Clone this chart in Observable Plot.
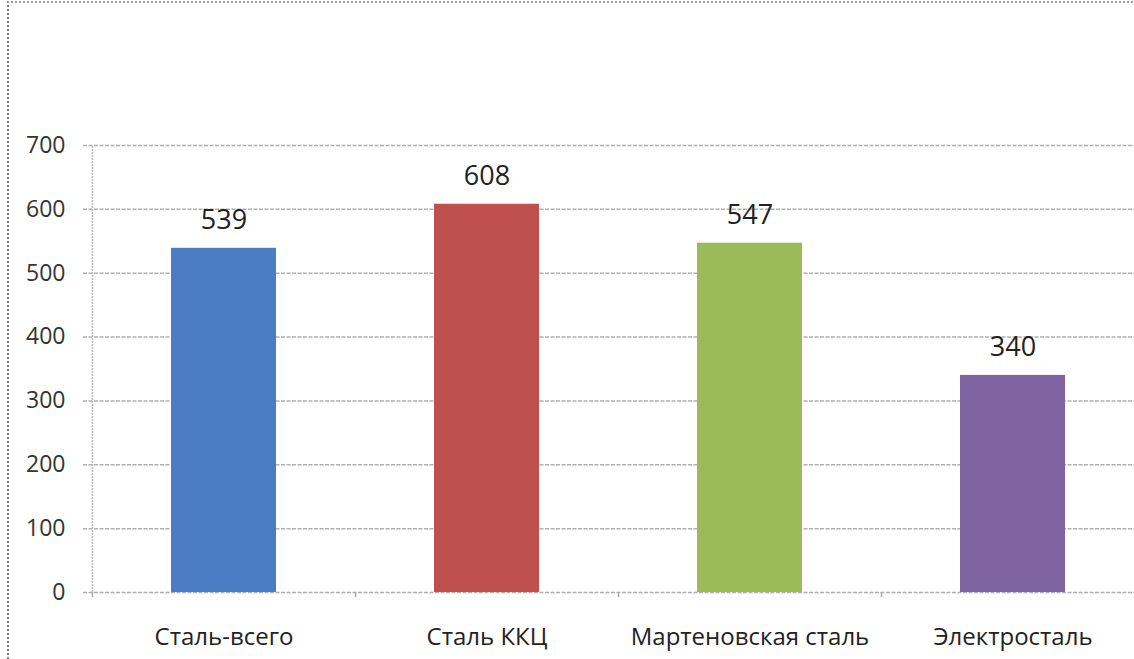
<!DOCTYPE html>
<html>
<head>
<meta charset="utf-8">
<script src="https://cdn.jsdelivr.net/npm/d3@7"></script>
<script src="https://cdn.jsdelivr.net/npm/@observablehq/plot@0.6"></script>
<style>
  html, body { margin: 0; padding: 0; background: #fff; }
  #wrap { position: relative; width: 1134px; height: 659px; overflow: hidden; }
  #border { position: absolute; left: 7px; top: 1px; width: 1200px; height: 700px;
            border-left: 2px dotted #7a7a7a; border-top: 2px dotted #9a9a9a; pointer-events: none; }
  #chart { position: absolute; left: 0; top: 0; }
</style>
</head>
<body>
<div id="wrap"><div id="chart"></div><div id="border"></div></div>
<script>
const categories = ["Сталь-всего", "Сталь ККЦ", "Мартеновская сталь", "Электросталь"];
const values = [539, 608, 547, 340];
const colors = ["#4a7dc3", "#c0504d", "#9bbb59", "#8064a2"];
const yTicks = [0, 100, 200, 300, 400, 500, 600, 700];

const data = categories.map((c, i) => ({category: c, value: values[i], color: colors[i]}));
const font = "'Open Sans', 'DejaVu Sans', sans-serif";

const chart = Plot.plot({
  width: 1134,
  height: 659,
  marginTop: 145,
  marginBottom: 67,
  marginLeft: 92,
  marginRight: 0,
  style: {fontFamily: font, background: "transparent"},
  x: {domain: categories, range: [92, 1144], paddingInner: 0.6, paddingOuter: 0.3, label: null},
  y: {domain: [0, 700], label: null},
  marks: [
    Plot.ruleY(yTicks, {stroke: "#b0b0b0", strokeWidth: 1.5, strokeDasharray: "4,1.5", insetLeft: -9}),
    Plot.ruleX([categories[0]], {x: d => d, y1: 0, y2: 700, dx: -131.5, stroke: "#bbbbbb", strokeWidth: 1.5, strokeDasharray: "2,1"}),
    Plot.ruleX(categories, {x: d => d, y1: 0, y2: -8, dx: -131.5, stroke: "#aaaaaa", strokeWidth: 1.5}),
    Plot.barY(data, {x: "category", y: "value", fill: "color"}),
    Plot.text(data, {x: "category", y: "value", text: d => String(d.value), lineAnchor: "bottom", dy: -19, fontSize: 27, fill: "#222"}),
    Plot.axisY({ticks: yTicks, tickSize: 0, tickPadding: 27, fontSize: 23, color: "#333"}),
    Plot.axisX({tickSize: 0, tickPadding: 35, fontSize: 24, color: "#222"})
  ]
});
document.getElementById("chart").appendChild(chart);
</script>
</body>
</html>
